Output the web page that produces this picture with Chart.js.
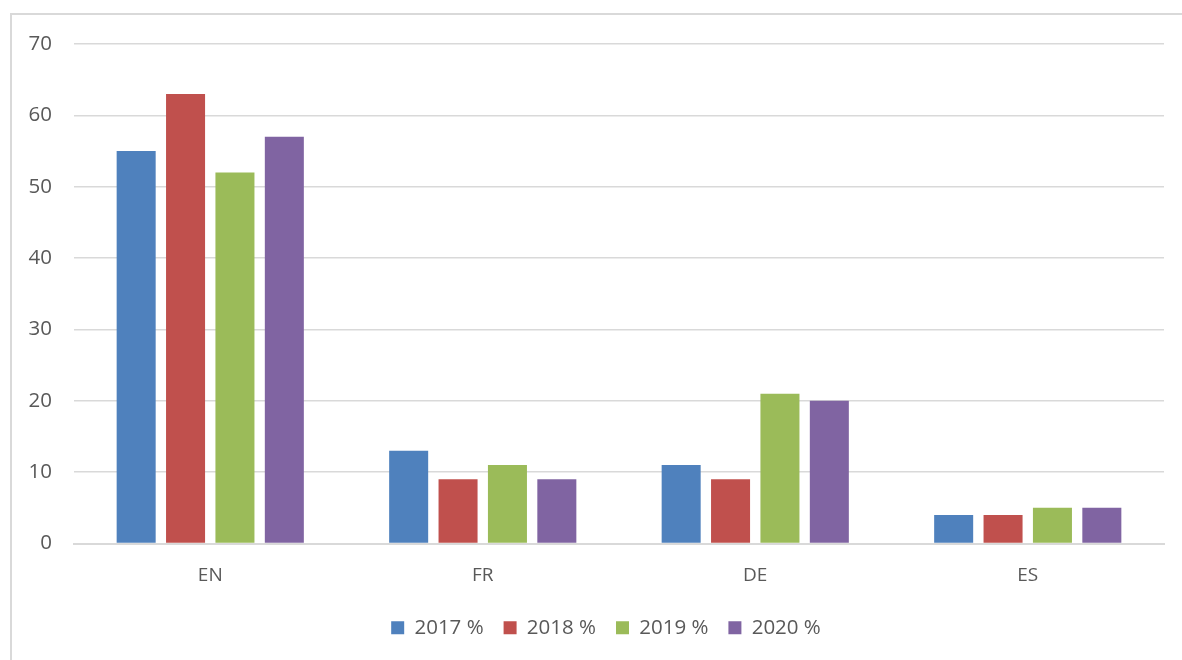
<!DOCTYPE html>
<html>
<head>
<meta charset="utf-8">
<script src="https://cdn.jsdelivr.net/npm/chart.js@4/dist/chart.umd.min.js"></script>
<style>
  html, body { margin: 0; padding: 0; background: #fff; }
  #frame {
    position: absolute; left: 10px; top: 13px; width: 1200px; height: 700px;
    border: 2px solid #d9d9d9; box-sizing: border-box;
  }
  #wrap { position: absolute; left: 0; top: 0; width: 1182px; height: 660px; }
</style>
</head>
<body>
<div id="frame"></div>
<div id="wrap"><canvas id="chart"></canvas></div>
<script>
// Chart data
const categories = ['EN', 'FR', 'DE', 'ES'];
const seriesNames = ['2017 %', '2018 %', '2019 %', '2020 %'];
const values2017 = [55, 13, 11, 4];
const values2018 = [63, 9, 9, 4];
const values2019 = [52, 11, 21, 5];
const values2020 = [57, 9, 20, 5];
const colors = ['#4f81bd', '#c0504d', '#9bbb59', '#8064a2'];

const fontFamily = "'Open Sans', 'Liberation Sans', sans-serif";
const textColor = '#595959';

const datasets = [values2017, values2018, values2019, values2020].map((data, i) => ({
  label: seriesNames[i],
  data: data,
  backgroundColor: colors[i],
  categoryPercentage: 0.725,
  barPercentage: 0.79
}));

// Nudge the legend to the right so it sits where the original one does
const legendShift = {
  id: 'legendShift',
  afterLayout: (chart) => {
    chart.legend.left += 24;
    chart.legend.right += 24;
  }
};

new Chart(document.getElementById('chart'), {
  type: 'bar',
  data: { labels: categories, datasets: datasets },
  plugins: [legendShift],
  options: {
    responsive: true,
    maintainAspectRatio: false,
    animation: false,
    layout: { padding: { top: 44, right: 18, left: 0, bottom: 12 } },
    plugins: {
      tooltip: { enabled: false },
      legend: {
        position: 'bottom',
        labels: {
          color: textColor,
          font: { family: fontFamily, size: 20.5 },
          boxWidth: 13,
          boxHeight: 13,
          padding: 20
        }
      }
    },
    scales: {
      x: {
        grid: { display: false, drawTicks: false },
        border: { display: true, color: '#d9d9d9', width: 2 },
        ticks: { color: textColor, font: { family: fontFamily, size: 19 }, padding: 21 },
        afterFit: (scale) => { scale.height = 54; }
      },
      y: {
        min: 0,
        max: 70,
        ticks: {
          stepSize: 10,
          color: textColor,
          font: { family: fontFamily, size: 20.5 },
          padding: 22
        },
        grid: { color: '#d9d9d9', lineWidth: 1.5, drawTicks: false },
        border: { display: false },
        afterFit: (scale) => { scale.width = 74; }
      }
    }
  }
});
</script>
</body>
</html>
